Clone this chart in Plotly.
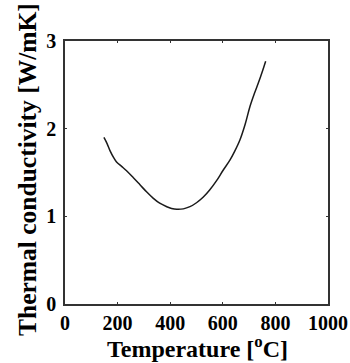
import plotly.graph_objects as go

temperature = [148, 160, 171, 185, 196, 215, 234, 260, 285, 310, 336, 360, 387, 405, 425, 450, 475, 500, 526, 550, 577, 600, 627, 645, 665, 685, 703, 720, 735, 750, 763]
conductivity = [1.90, 1.83, 1.75, 1.67, 1.62, 1.57, 1.52, 1.44, 1.36, 1.28, 1.205, 1.15, 1.11, 1.09, 1.08, 1.085, 1.11, 1.155, 1.22, 1.30, 1.41, 1.52, 1.64, 1.74, 1.87, 2.05, 2.25, 2.40, 2.52, 2.65, 2.77]

x_ticks = [0, 200, 400, 600, 800, 1000]
y_ticks = [0, 1, 2, 3]
x_title = "<b>Temperature [<sup>o</sup>C]</b>"
y_title = "<b>Thermal conductivity [W/mK]</b>"

fig = go.Figure()
fig.add_trace(go.Scatter(x=temperature, y=conductivity, mode="lines",
                         line=dict(color="#1a1a1a", width=1.5, shape="spline"),
                         showlegend=False))

font = "Liberation Serif, Times New Roman, serif"
fig.update_layout(
    width=350, height=363,
    margin=dict(l=65, r=22, t=41, b=59),
    paper_bgcolor="white", plot_bgcolor="white",
    font=dict(family=font, color="black"),
)
fig.update_xaxes(range=[0, 1000], tickvals=x_ticks, ticktext=[f"<b>{v}</b>" for v in x_ticks],
                 showgrid=False, zeroline=False, showline=True, linecolor="#333", linewidth=1.5,
                 mirror="ticks", ticks="inside", ticklen=2, tickcolor="#333",
                 tickfont=dict(size=20, family=font), automargin=False)
fig.update_yaxes(range=[0, 3], tickvals=y_ticks, ticktext=[f"<b>{v}</b>" for v in y_ticks],
                 showgrid=False, zeroline=False, showline=True, linecolor="#333", linewidth=1.5,
                 mirror="ticks", ticks="inside", ticklen=2, tickcolor="#333",
                 tickfont=dict(size=20, family=font), automargin=False, ticklabelstandoff=3)

fig.add_annotation(text=x_title, xref="paper", yref="paper", x=0.505, y=-0.162,
                   xanchor="center", yanchor="middle", showarrow=False,
                   font=dict(size=24, family=font))
fig.add_annotation(text=y_title, xref="paper", yref="paper", x=-0.14, y=0.51,
                   xanchor="center", yanchor="middle", showarrow=False, textangle=-90,
                   font=dict(size=25.5, family=font))

fig.write_html("out.html", config={"displayModeBar": False},
               post_script="document.body.style.margin='0';")
